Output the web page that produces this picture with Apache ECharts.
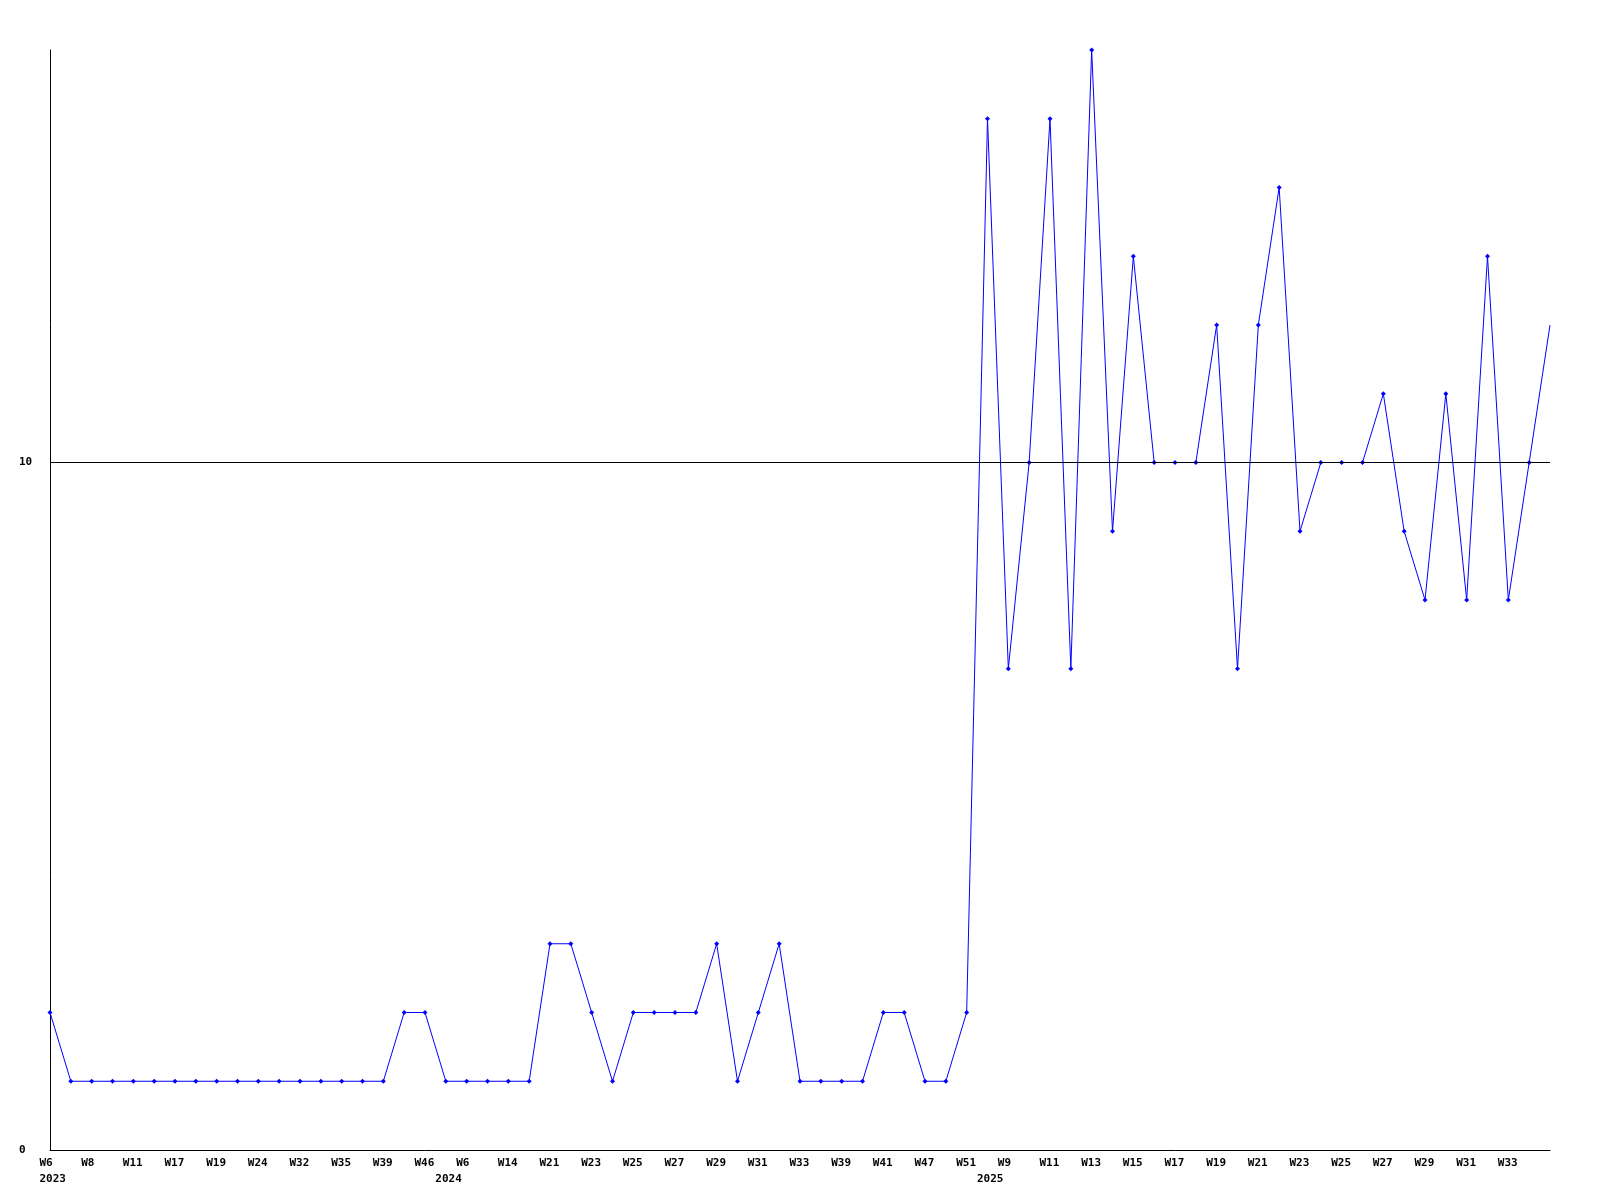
<!DOCTYPE html>
<html>
<head>
<meta charset="utf-8">
<script src="https://cdn.jsdelivr.net/npm/echarts@6/dist/echarts.min.js"></script>
<style>html,body{margin:0;padding:0;background:#fff}#c{width:1600px;height:1200px}</style>
</head>
<body>
<div id="c"></div>
<script>
// category labels (week numbers); year is shown under the first week of each year
const weeks = ['W6','W7','W8','W9','W11','W12','W17','W18','W19','W20','W24','W25','W32','W33','W35','W36','W39','W40','W46','W3',
  'W6','W7','W14','W15','W21','W22','W23','W24','W25','W26','W27','W28','W29','W30','W31','W32','W33','W34','W39','W40',
  'W41','W42','W47','W48','W51','W3','W9','W10','W11','W12','W13','W14','W15','W16','W17','W18','W19','W20',
  'W21','W22','W23','W24','W25','W26','W27','W28','W29','W30','W31','W32','W33','W34','W35'];
const years = {0:'2023', 19:'2024', 45:'2025'};
const values = [2,1,1,1,1,1,1,1,1,1,1,1,1,1,1,1,1,2,2,1,
  1,1,1,1,3,3,2,1,2,2,2,2,3,1,2,3,1,1,1,1,
  2,2,1,1,2,15,7,10,15,7,16,9,13,10,10,10,12,7,
  12,14,9,10,10,10,11,9,8,11,8,13,8,10,12];
const yTicks = [0, 10];

const chart = echarts.init(document.getElementById('c'), null, {renderer:'canvas'});
const font = 'DejaVu Sans Mono';
const data = values.map((v, i) => i === values.length - 1 ? {value: v, symbol: 'none'} : v);
chart.setOption({
  animation: false,
  backgroundColor: '#ffffff',
  grid: {left: 50, right: 50, top: 50, bottom: 50, containLabel: false},
  xAxis: {
    type: 'category', data: weeks, boundaryGap: false,
    axisLine: {lineStyle: {color: '#000', width: 1}},
    axisTick: {show: false},
    splitLine: {show: false},
    axisLabel: {
      interval: 0, margin: 5, color: '#000', fontFamily: font, fontWeight: 'bold', fontSize: 11,
      align: 'center', hideOverlap: false,
      formatter: (val, idx) => {
        const showWeek = idx % 2 === 0 && idx < weeks.length - 1;
        let s = showWeek ? '{a|' + val + '}' : '{a| }';
        if (years[idx]) s += '\n{a|' + years[idx] + '}';
        return s;
      },
      rich: {a: {width: 21, align: 'left', lineHeight: 16, fontFamily: font, fontWeight: 'bold', fontSize: 11, color: '#000'}}
    }
  },
  yAxis: {
    type: 'value', min: 0, max: 16, interval: 10,
    axisLine: {show: true, lineStyle: {color: '#000', width: 1}},
    axisTick: {show: false},
    splitLine: {show: false},
    axisLabel: {
      customValues: yTicks, margin: 31, align: 'left',
      color: '#000', fontFamily: font, fontWeight: 'bold', fontSize: 11
    }
  },
  series: [{
    type: 'line', data: data,
    lineStyle: {color: '#0000ff', width: 1},
    itemStyle: {color: '#0000ff'},
    symbol: 'diamond', symbolSize: 5, showSymbol: true,
    markLine: {
      silent: true, symbol: 'none', label: {show: false},
      lineStyle: {color: '#000', width: 1, type: 'solid'},
      data: [{yAxis: 10}]
    },
    z: 3
  }]
});
</script>
</body>
</html>
